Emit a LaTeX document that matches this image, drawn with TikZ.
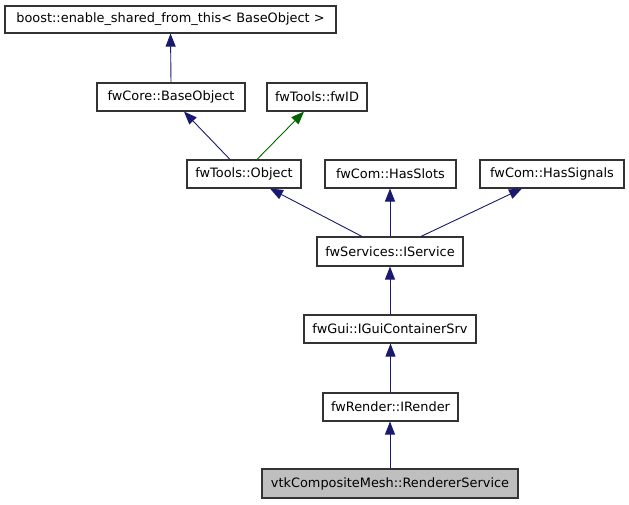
\documentclass[tikz,border=0pt]{standalone}
\usepackage{fontspec}
\setmainfont{DejaVu Sans}
\usetikzlibrary{arrows.meta,calc}
\definecolor{edgeblue}{HTML}{191970}
\definecolor{edgegreen}{HTML}{006400}
\begin{document}
\begin{tikzpicture}[x=1pt,y=-1pt,
  cls/.style={draw=black!80, line width=1.1pt, inner sep=0pt, minimum height=28pt, font=\fontsize{12.9}{14}\selectfont, fill=white},
  inh/.style={draw=edgeblue, line width=0.9pt, -{Triangle[length=13pt,width=10pt]}},
  inhg/.style={draw=edgegreen, line width=0.9pt, -{Triangle[length=13pt,width=10pt]}}]
\useasboundingbox (0,0) rectangle (629,504);
\node[cls, minimum width=331pt, minimum height=27pt] (boost) at (170.5,19.5) {boost::enable\_shared\_from\_this< BaseObject >};
\node[cls, minimum width=148pt] (base) at (171,97) {fwCore::BaseObject};
\node[cls, minimum width=100pt] (fwid) at (317,97) {fwTools::fwID};
\node[cls, minimum width=114pt] (obj) at (244,174) {fwTools::Object};
\node[cls, minimum width=131pt] (slots) at (390.5,174) {fwCom::HasSlots};
\node[cls, minimum width=144pt] (sigs) at (552,174) {fwCom::HasSignals};
\node[cls, minimum width=146pt, minimum height=29pt] (serv) at (390,251.5) {fwServices::IService};
\node[cls, minimum width=172pt] (gui) at (390,329) {fwGui::IGuiContainerSrv};
\node[cls, minimum width=135pt] (rend) at (390.5,407) {fwRender::IRender};
\node[cls, minimum width=256pt, minimum height=29pt, fill=black!25] (vtk) at (390,483.5) {vtkCompositeMesh::RendererService};
\draw[inh] (base.north) -- (boost.south);
\draw[inh] ($(obj.north)+(-14,0)$) -- ($(base.south)+(13,0)$);
\draw[inhg] ($(obj.north)+(13,0)$) -- ($(fwid.south)+(-13,0)$);
\draw[inh] ($(serv.north)+(-28,0)$) -- ($(obj.south)+(26,0)$);
\draw[inh] (serv.north) -- (slots.south -| serv.north);
\draw[inh] ($(serv.north)+(31,0)$) -- ($(sigs.south)+(-30,0)$);
\draw[inh] (gui.north) -- (serv.south);
\draw[inh] (rend.north) -- (gui.south -| rend.north);
\draw[inh] (vtk.north) -- (rend.south -| vtk.north);
\end{tikzpicture}
\end{document}
